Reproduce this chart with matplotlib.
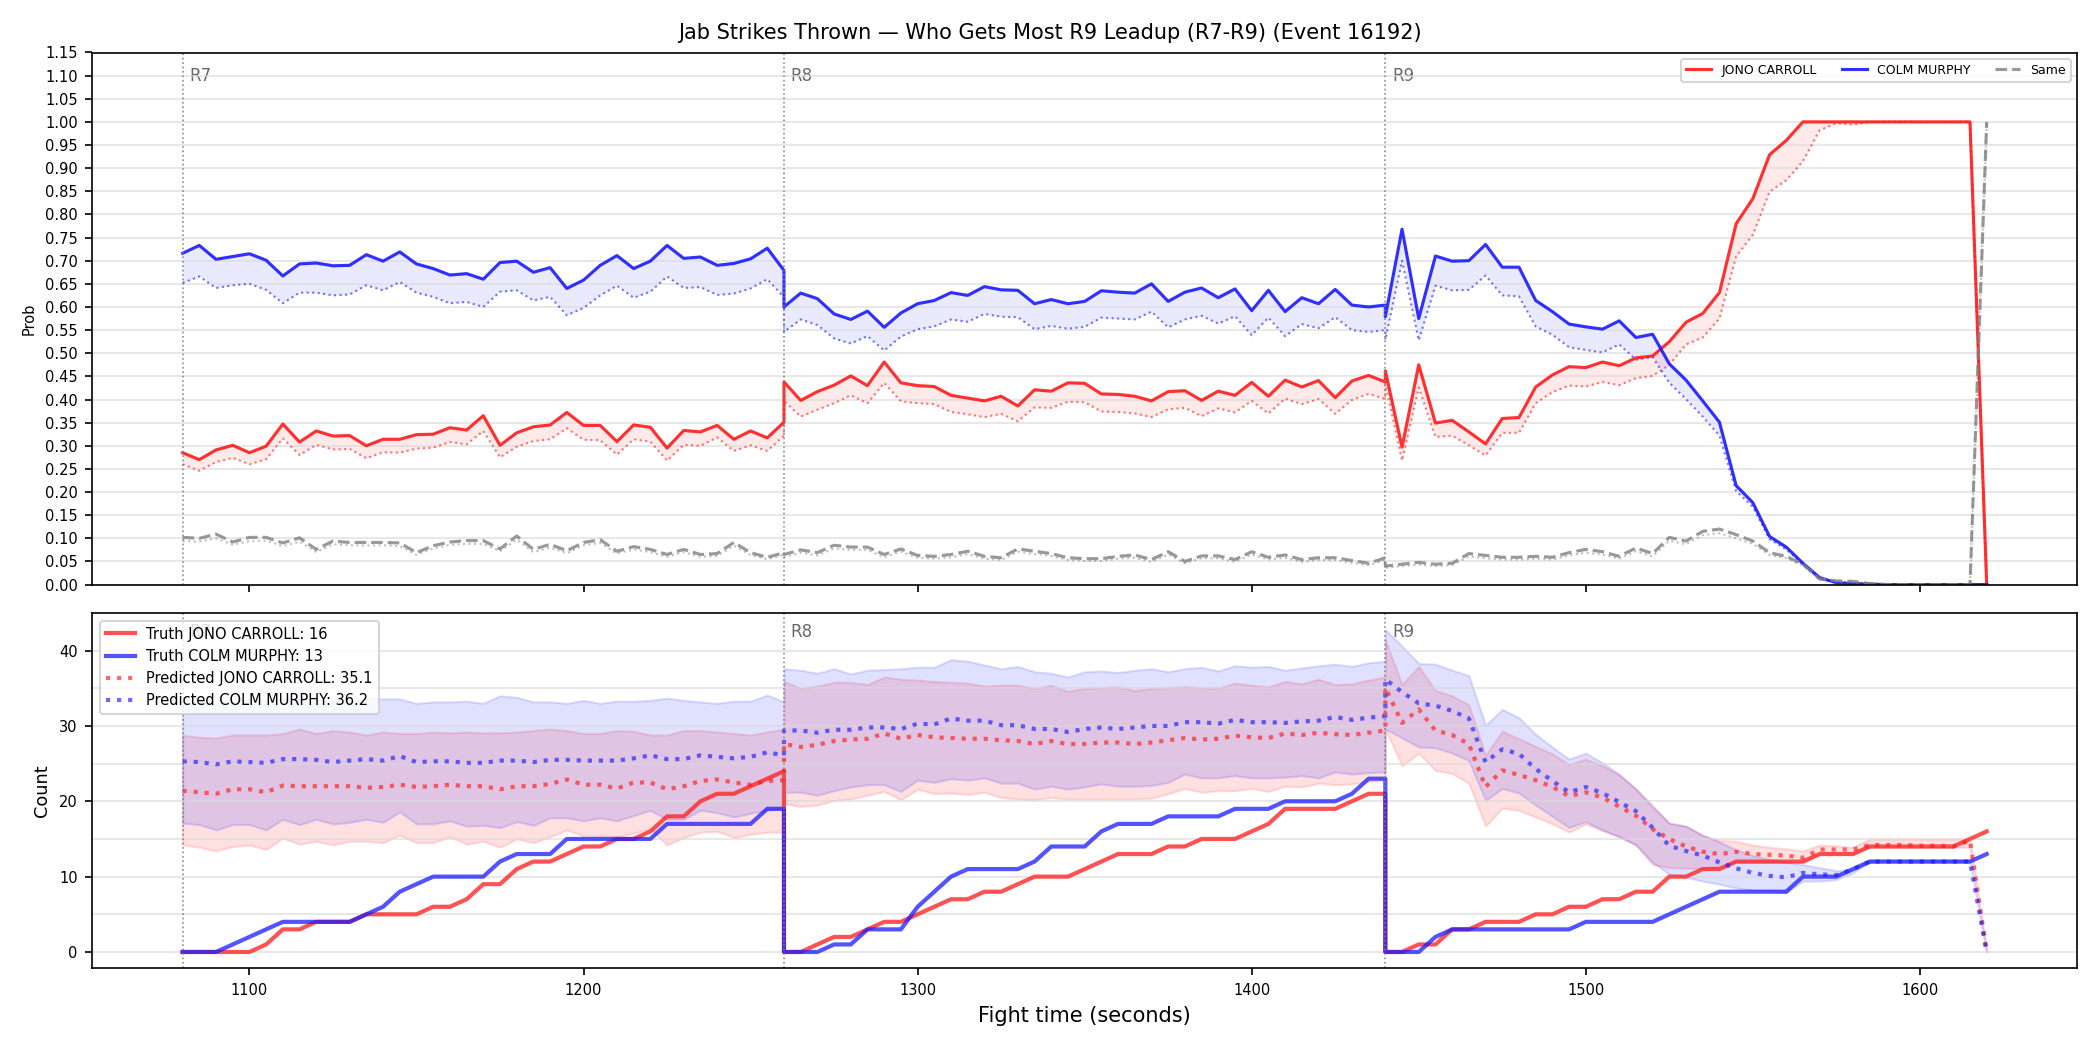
import numpy as np
import matplotlib
matplotlib.use('Agg')
import matplotlib.pyplot as plt
from matplotlib.ticker import MultipleLocator
from matplotlib.transforms import blended_transform_factory

fighter_a = 'JONO CARROLL'
fighter_b = 'COLM MURPHY'
rounds = ['R7', 'R8', 'R9']
round_starts = [1080, 1260, 1440]

# --- probability panel (one list per round, 5 s steps, 37 points each) ---
prob_a = [
    [0.285, 0.270, 0.291, 0.301, 0.285, 0.299, 0.347, 0.308, 0.332, 0.321, 0.322, 0.300, 0.314, 0.314, 0.324, 0.325,
     0.339, 0.334, 0.365, 0.301, 0.328, 0.341, 0.345, 0.372, 0.344, 0.344, 0.309, 0.345, 0.340, 0.295, 0.333, 0.330,
     0.344, 0.314, 0.332, 0.317, 0.351],
    [0.438, 0.398, 0.417, 0.431, 0.451, 0.430, 0.481, 0.436, 0.430, 0.428, 0.409, 0.403, 0.397, 0.407, 0.386, 0.421,
     0.418, 0.436, 0.435, 0.412, 0.411, 0.407, 0.397, 0.417, 0.419, 0.398, 0.418, 0.409, 0.437, 0.407, 0.442, 0.427,
     0.441, 0.404, 0.440, 0.452, 0.438],
    [0.462, 0.297, 0.475, 0.349, 0.355, 0.330, 0.304, 0.359, 0.361, 0.427, 0.453, 0.471, 0.469, 0.481, 0.473, 0.490,
     0.494, 0.525, 0.567, 0.586, 0.631, 0.780, 0.834, 0.929, 0.960, 1.0, 1.0, 1.0, 1.0, 1.0, 1.0, 1.0,
     1.0, 1.0, 1.0, 1.0, 0.0],
]
prob_a_raw = [
    [0.260, 0.246, 0.265, 0.274, 0.260, 0.271, 0.316, 0.280, 0.302, 0.292, 0.293, 0.273, 0.286, 0.285, 0.294, 0.296,
     0.308, 0.303, 0.332, 0.275, 0.298, 0.310, 0.314, 0.338, 0.313, 0.312, 0.281, 0.314, 0.309, 0.268, 0.302, 0.300,
     0.318, 0.289, 0.301, 0.289, 0.322],
    [0.397, 0.363, 0.378, 0.392, 0.409, 0.392, 0.436, 0.396, 0.392, 0.390, 0.373, 0.368, 0.362, 0.369, 0.353, 0.383,
     0.382, 0.395, 0.394, 0.374, 0.373, 0.370, 0.362, 0.379, 0.382, 0.364, 0.381, 0.372, 0.397, 0.370, 0.402, 0.390,
     0.401, 0.369, 0.399, 0.412, 0.401],
    [0.434, 0.268, 0.426, 0.319, 0.322, 0.301, 0.279, 0.328, 0.328, 0.392, 0.416, 0.430, 0.428, 0.438, 0.431, 0.446,
     0.451, 0.475, 0.519, 0.534, 0.575, 0.709, 0.756, 0.849, 0.874, 0.915, 0.982, 0.997, 0.994, 1.0, 1.0, 1.0,
     1.0, 1.0, 1.0, 1.0, 0.0],
]
prob_b = [
    [0.716, 0.733, 0.703, 0.709, 0.715, 0.701, 0.667, 0.693, 0.695, 0.689, 0.690, 0.713, 0.699, 0.719, 0.693, 0.683,
     0.669, 0.672, 0.660, 0.696, 0.699, 0.675, 0.685, 0.640, 0.658, 0.690, 0.711, 0.683, 0.699, 0.733, 0.705, 0.708,
     0.690, 0.694, 0.704, 0.727, 0.679],
    [0.600, 0.630, 0.618, 0.585, 0.573, 0.591, 0.556, 0.587, 0.607, 0.614, 0.631, 0.625, 0.644, 0.637, 0.636, 0.607,
     0.616, 0.607, 0.612, 0.635, 0.632, 0.630, 0.650, 0.612, 0.632, 0.641, 0.620, 0.639, 0.592, 0.636, 0.590, 0.620,
     0.607, 0.638, 0.604, 0.600, 0.604],
    [0.579, 0.768, 0.575, 0.710, 0.699, 0.700, 0.735, 0.686, 0.686, 0.614, 0.590, 0.563, 0.557, 0.552, 0.570, 0.534,
     0.541, 0.477, 0.442, 0.397, 0.351, 0.214, 0.177, 0.104, 0.081, 0.046, 0.015, 0.004, 0.002, 0.001, 0.0, 0.0,
     0.0, 0.0, 0.0, 0.0, 0.0],
]
prob_b_raw = [
    [0.652, 0.666, 0.641, 0.647, 0.650, 0.637, 0.608, 0.631, 0.631, 0.625, 0.627, 0.647, 0.636, 0.654, 0.631, 0.622,
     0.608, 0.611, 0.600, 0.633, 0.636, 0.614, 0.622, 0.582, 0.598, 0.625, 0.646, 0.620, 0.633, 0.666, 0.641, 0.643,
     0.626, 0.629, 0.640, 0.660, 0.621],
    [0.546, 0.573, 0.561, 0.532, 0.521, 0.537, 0.506, 0.536, 0.552, 0.558, 0.573, 0.568, 0.585, 0.579, 0.578, 0.552,
     0.559, 0.553, 0.557, 0.577, 0.575, 0.573, 0.590, 0.556, 0.573, 0.581, 0.564, 0.580, 0.539, 0.577, 0.537, 0.563,
     0.554, 0.578, 0.550, 0.546, 0.550],
    [0.529, 0.700, 0.528, 0.646, 0.636, 0.637, 0.668, 0.625, 0.623, 0.558, 0.540, 0.513, 0.507, 0.502, 0.519, 0.486,
     0.492, 0.436, 0.401, 0.363, 0.322, 0.202, 0.168, 0.098, 0.076, 0.044, 0.013, 0.004, 0.002, 0.001, 0.0, 0.0,
     0.0, 0.0, 0.0, 0.0, 0.0],
]
prob_same = [
    [0.102, 0.100, 0.109, 0.092, 0.102, 0.102, 0.090, 0.101, 0.076, 0.094, 0.091, 0.091, 0.091, 0.090, 0.069, 0.084,
     0.092, 0.095, 0.095, 0.077, 0.105, 0.076, 0.087, 0.073, 0.091, 0.097, 0.072, 0.082, 0.076, 0.065, 0.076, 0.065,
     0.067, 0.091, 0.069, 0.059, 0.069],
    [0.065, 0.075, 0.069, 0.085, 0.081, 0.081, 0.065, 0.077, 0.063, 0.061, 0.065, 0.072, 0.061, 0.058, 0.077, 0.072,
     0.067, 0.058, 0.056, 0.056, 0.061, 0.064, 0.054, 0.071, 0.050, 0.062, 0.062, 0.054, 0.071, 0.059, 0.064, 0.054,
     0.058, 0.058, 0.052, 0.046, 0.058],
    [0.040, 0.044, 0.048, 0.044, 0.046, 0.067, 0.063, 0.059, 0.059, 0.061, 0.059, 0.069, 0.076, 0.071, 0.061, 0.079,
     0.067, 0.102, 0.094, 0.115, 0.120, 0.108, 0.094, 0.069, 0.061, 0.044, 0.012, 0.008, 0.007, 0.002, 0.0, 0.0,
     0.0, 0.0, 0.0, 0.0, 1.0],
]
prob_same_raw = [
    [0.094, 0.093, 0.100, 0.086, 0.094, 0.095, 0.083, 0.093, 0.070, 0.087, 0.085, 0.084, 0.085, 0.083, 0.064, 0.078,
     0.086, 0.088, 0.088, 0.072, 0.097, 0.070, 0.080, 0.068, 0.085, 0.090, 0.067, 0.076, 0.070, 0.060, 0.070, 0.060,
     0.062, 0.084, 0.064, 0.055, 0.064],
    [0.059, 0.069, 0.063, 0.078, 0.075, 0.075, 0.059, 0.071, 0.058, 0.056, 0.059, 0.066, 0.056, 0.053, 0.071, 0.066,
     0.062, 0.053, 0.051, 0.051, 0.056, 0.058, 0.049, 0.065, 0.046, 0.057, 0.057, 0.049, 0.065, 0.054, 0.058, 0.049,
     0.053, 0.053, 0.047, 0.042, 0.053],
    [0.036, 0.040, 0.043, 0.040, 0.042, 0.061, 0.057, 0.054, 0.054, 0.056, 0.054, 0.063, 0.069, 0.065, 0.056, 0.072,
     0.061, 0.095, 0.087, 0.107, 0.111, 0.100, 0.088, 0.064, 0.057, 0.041, 0.011, 0.007, 0.006, 0.002, 0.0, 0.0,
     0.0, 0.0, 0.0, 0.0, 1.0],
]

# --- count panel ---
truth_a = [
    [0, 0, 0, 0, 0, 1, 3, 3, 4, 4, 4, 5, 5, 5, 5, 6, 6, 7, 9, 9, 11, 12, 12, 13, 14, 14, 15, 15, 16, 18, 18, 20,
     21, 21, 22, 23, 24],
    [0, 0, 1, 2, 2, 3, 4, 4, 5, 6, 7, 7, 8, 8, 9, 10, 10, 10, 11, 12, 13, 13, 13, 14, 14, 15, 15, 15, 16, 17, 19, 19,
     19, 19, 20, 21, 21],
    [0, 0, 1, 1, 3, 3, 4, 4, 4, 5, 5, 6, 6, 7, 7, 8, 8, 10, 10, 11, 11, 12, 12, 12, 12, 12, 13, 13, 13, 14, 14, 14,
     14, 14, 14, 15, 16],
]
truth_b = [
    [0, 0, 0, 1, 2, 3, 4, 4, 4, 4, 4, 5, 6, 8, 9, 10, 10, 10, 10, 12, 13, 13, 13, 15, 15, 15, 15, 15, 15, 17, 17, 17,
     17, 17, 17, 19, 19],
    [0, 0, 0, 1, 1, 3, 3, 3, 6, 8, 10, 11, 11, 11, 11, 12, 14, 14, 14, 16, 17, 17, 17, 18, 18, 18, 18, 19, 19, 19, 20, 20,
     20, 20, 21, 23, 23],
    [0, 0, 0, 2, 3, 3, 3, 3, 3, 3, 3, 3, 4, 4, 4, 4, 4, 5, 6, 7, 8, 8, 8, 8, 8, 10, 10, 10, 11, 12, 12, 12,
     12, 12, 12, 12, 13],
]
pred_a = [
    [21.4, 21.2, 21.0, 21.6, 21.6, 21.2, 22.1, 22.0, 22.0, 22.0, 22.0, 21.8, 21.9, 22.2, 21.9, 22.0, 22.2, 22.0, 22.0,
     21.6, 22.0, 22.0, 22.3, 22.9, 22.2, 22.2, 21.7, 22.5, 22.5, 21.6, 22.0, 22.7, 22.9, 22.5, 22.2, 22.7, 22.8],
    [27.6, 27.2, 27.5, 28.0, 28.2, 28.3, 29.0, 28.3, 28.8, 28.5, 28.4, 28.3, 28.3, 28.1, 28.0, 27.6, 28.0, 27.6, 27.6,
     27.8, 27.8, 27.6, 27.8, 28.1, 28.4, 28.2, 28.3, 28.7, 28.5, 28.4, 29.0, 28.8, 29.1, 28.9, 28.8, 29.1, 29.4],
    [35.1, 30.4, 32.2, 29.4, 28.8, 27.6, 21.9, 24.1, 23.5, 22.8, 21.9, 20.7, 21.2, 20.5, 19.3, 18.1, 16.3, 15.0, 14.0,
     13.3, 13.0, 13.3, 13.0, 12.9, 12.8, 12.5, 13.6, 13.6, 13.6, 14.2, 14.2, 14.2, 14.1, 14.1, 14.0, 14.8, 0.0],
]
pred_a_lo = [
    [14.2, 13.9, 13.4, 14.0, 14.2, 13.6, 15.1, 14.3, 14.7, 14.2, 14.7, 14.7, 14.5, 15.5, 14.5, 14.5, 15.3, 14.3, 14.7,
     13.9, 15.0, 14.5, 15.3, 16.2, 15.4, 15.4, 15.3, 15.8, 16.3, 14.2, 15.2, 15.9, 16.0, 15.2, 15.6, 15.9, 15.9],
    [19.7, 19.3, 19.5, 20.1, 20.3, 20.8, 21.3, 20.2, 21.6, 21.0, 21.1, 20.9, 21.2, 20.5, 20.3, 20.2, 20.5, 20.3, 20.3,
     20.3, 20.3, 20.3, 20.4, 21.0, 21.7, 21.2, 21.4, 21.4, 21.7, 21.3, 22.0, 21.9, 22.4, 22.2, 22.3, 22.6, 22.8],
    [29.6, 24.7, 26.4, 24.1, 23.7, 22.4, 16.7, 19.1, 18.8, 17.9, 17.0, 15.9, 17.0, 16.1, 15.3, 14.2, 11.6, 11.2, 11.1,
     11.1, 11.4, 11.9, 11.9, 11.9, 11.9, 11.9, 13.0, 13.0, 13.0, 13.9, 13.9, 13.9, 13.9, 13.9, 13.9, 13.9, 0.0],
]
pred_a_hi = [
    [28.8, 28.5, 28.4, 28.8, 28.8, 28.8, 29.0, 29.6, 29.0, 29.4, 29.2, 28.8, 29.2, 29.0, 29.0, 29.2, 29.1, 29.2, 29.1,
     29.1, 29.2, 29.4, 29.6, 29.4, 29.0, 29.0, 29.4, 29.3, 28.8, 28.8, 29.4, 29.4, 29.2, 29.0, 28.8, 29.2, 29.6],
    [35.9, 35.0, 35.3, 35.8, 35.8, 35.5, 36.5, 36.2, 36.1, 35.9, 35.8, 35.7, 35.3, 35.4, 35.4, 35.0, 35.4, 34.6, 35.0,
     35.1, 35.2, 34.7, 35.0, 35.1, 35.2, 35.1, 35.0, 35.7, 35.4, 35.2, 35.9, 35.6, 36.2, 35.5, 35.6, 36.1, 36.5],
    [41.4, 35.5, 37.9, 34.7, 34.0, 32.8, 26.1, 29.3, 28.3, 27.3, 26.3, 24.9, 25.6, 24.7, 23.5, 21.7, 19.5, 17.1, 16.7,
     15.5, 14.8, 14.7, 14.2, 13.9, 13.7, 13.4, 14.2, 14.1, 13.9, 15.0, 15.0, 15.0, 15.0, 15.0, 15.0, 15.0, 0.0],
]
pred_b = [
    [25.3, 25.2, 24.9, 25.3, 25.2, 25.1, 25.6, 25.6, 25.5, 25.2, 25.4, 25.6, 25.4, 26.0, 25.2, 25.3, 25.3, 25.1, 25.1,
     25.4, 25.4, 25.2, 25.5, 25.5, 25.4, 25.4, 25.4, 25.7, 26.1, 25.6, 25.6, 26.1, 25.9, 25.7, 25.9, 26.5, 26.1],
    [29.4, 29.4, 29.1, 29.5, 29.5, 29.8, 29.8, 29.6, 30.3, 30.2, 31.0, 30.7, 30.7, 30.1, 30.1, 29.6, 29.6, 29.2, 29.6,
     29.8, 29.6, 29.8, 30.0, 30.0, 30.5, 30.5, 30.3, 30.8, 30.5, 30.5, 30.4, 30.6, 30.7, 31.2, 30.8, 31.1, 31.3],
    [36.2, 34.5, 33.0, 32.7, 32.0, 31.0, 25.2, 26.9, 26.3, 24.3, 22.7, 21.2, 21.9, 21.1, 19.9, 18.7, 16.5, 14.1, 13.4,
     12.8, 11.9, 11.1, 10.5, 10.1, 9.9, 10.5, 10.3, 10.2, 11.0, 12.0, 12.0, 12.0, 12.0, 12.0, 12.0, 12.0, 0.0],
]
pred_b_lo = [
    [17.1, 16.9, 16.2, 16.9, 16.9, 16.2, 17.6, 16.9, 17.6, 17.0, 17.2, 17.6, 17.2, 18.6, 17.0, 17.0, 17.4, 16.7, 16.8,
     16.5, 17.3, 16.8, 17.8, 17.8, 17.4, 17.8, 17.4, 18.1, 18.8, 17.6, 17.6, 18.8, 18.5, 17.9, 18.4, 18.8, 19.1],
    [21.2, 21.2, 20.8, 21.4, 21.9, 22.2, 22.2, 21.3, 22.8, 22.5, 23.0, 22.8, 23.1, 22.4, 22.4, 21.6, 22.0, 21.6, 21.9,
     22.3, 22.0, 22.0, 22.1, 22.5, 23.6, 23.1, 23.1, 23.4, 23.1, 23.1, 23.2, 23.4, 23.1, 23.9, 23.6, 23.8, 23.9],
    [29.6, 28.4, 27.2, 27.1, 26.4, 25.4, 20.1, 21.7, 21.1, 19.5, 18.0, 16.5, 17.3, 16.2, 15.3, 14.2, 11.9, 10.3, 9.9,
     9.4, 9.0, 8.5, 8.2, 8.1, 7.9, 9.4, 9.4, 9.6, 10.5, 11.9, 11.9, 11.9, 11.9, 11.9, 11.9, 11.9, 0.0],
]
pred_b_hi = [
    [33.4, 33.2, 33.0, 33.3, 33.5, 33.4, 33.6, 33.8, 33.5, 33.4, 33.2, 33.7, 33.6, 33.6, 33.0, 33.2, 33.2, 33.3, 33.0,
     34.0, 33.8, 33.2, 33.2, 33.0, 33.4, 33.0, 33.3, 33.3, 33.4, 33.7, 33.4, 33.2, 33.0, 33.3, 33.3, 34.1, 33.2],
    [37.6, 37.4, 37.0, 37.6, 36.9, 37.4, 37.5, 37.6, 37.8, 37.8, 38.8, 38.6, 38.1, 37.6, 37.9, 37.2, 37.0, 36.5, 37.2,
     37.3, 37.1, 37.4, 37.6, 37.2, 37.6, 37.8, 37.3, 38.0, 37.8, 37.9, 37.4, 37.7, 38.0, 38.2, 37.9, 38.4, 38.6],
    [42.8, 40.6, 38.3, 38.2, 37.4, 36.7, 30.1, 32.2, 31.1, 28.9, 27.2, 25.6, 26.4, 25.1, 23.6, 21.6, 19.2, 17.1, 16.7,
     15.5, 14.6, 13.6, 12.8, 12.3, 11.9, 11.6, 11.2, 10.8, 10.9, 12.2, 12.2, 12.2, 12.2, 12.2, 12.2, 12.2, 0.0],
]


def join(per_round):
    return np.concatenate([np.asarray(v, dtype=float) for v in per_round])


t = np.concatenate([np.arange(s, s + 181, 5) for s in round_starts])

RED = '#ff1a1a'
BLUE = '#1a1aff'

fig, (ax1, ax2) = plt.subplots(2, 1, figsize=(14, 7), dpi=150, sharex=True,
                               gridspec_kw={'height_ratios': [3, 2]})
fig.subplots_adjust(left=0.044, right=0.989, top=0.950, bottom=0.078, hspace=0.065)

# top: probabilities
for solid, raw, col in [(prob_a, prob_a_raw, RED), (prob_b, prob_b_raw, BLUE)]:
    ax1.fill_between(t, join(raw), join(solid), color=col, alpha=0.09, linewidth=0)
    ax1.plot(t, join(raw), color=col, ls=':', lw=1.0, alpha=0.6)
ax1.plot(t, join(prob_same_raw), color='gray', ls=':', lw=1.0, alpha=0.5)

ax1.plot(t, join(prob_a), color=RED, lw=1.5, alpha=0.9, label=fighter_a)
ax1.plot(t, join(prob_b), color=BLUE, lw=1.5, alpha=0.9, label=fighter_b)
ax1.plot(t, join(prob_same), color='gray', ls='--', lw=1.5, alpha=0.8, label='Same')

ax1.set_ylim(0, 1.15)
ax1.yaxis.set_major_locator(MultipleLocator(0.05))
ax1.grid(axis='y', color='#d9d9d9', lw=0.8, alpha=0.7)
ax1.set_ylabel('Prob', fontsize=7)
ax1.tick_params(labelsize=7)
ax1.legend(loc='upper right', ncol=3, fontsize=6)

# bottom: counts
ax2.fill_between(t, join(pred_a_lo), join(pred_a_hi), color='red', alpha=0.12)
ax2.fill_between(t, join(pred_b_lo), join(pred_b_hi), color='blue', alpha=0.12)
ax2.plot(t, join(truth_a), color=RED, lw=2, alpha=0.75,
         label=f'Truth {fighter_a}: {truth_a[-1][-1]}')
ax2.plot(t, join(truth_b), color=BLUE, lw=2, alpha=0.75,
         label=f'Truth {fighter_b}: {truth_b[-1][-1]}')
ax2.plot(t, join(pred_a), color=RED, ls=':', lw=2, alpha=0.65,
         label=f'Predicted {fighter_a}: {pred_a[-1][0]:.1f}')
ax2.plot(t, join(pred_b), color=BLUE, ls=':', lw=2, alpha=0.65,
         label=f'Predicted {fighter_b}: {pred_b[-1][0]:.1f}')

ax2.yaxis.set_major_locator(MultipleLocator(10))
ax2.yaxis.set_minor_locator(MultipleLocator(5))
ax2.tick_params(axis='y', which='minor', length=0)
ax2.grid(axis='y', which='both', color='#d9d9d9', lw=0.8, alpha=0.7)
ax2.set_ylabel('Count', fontsize=8.5)
ax2.set_xlabel('Fight time (seconds)', fontsize=10)
ax2.tick_params(labelsize=7)

# round markers (drawn before the legend so the legend box covers the R7 tag, as in the source)
for ax in (ax1, ax2):
    tr = blended_transform_factory(ax.transData, ax.transAxes)
    for name, start in zip(rounds, round_starts):
        ax.axvline(start, color='gray', ls=':', lw=0.8, alpha=0.9)
        ax.text(start + 2, 0.972, name, transform=tr, va='top', ha='left', fontsize=8,
                color='dimgray', zorder=1)

leg = ax2.legend(loc='upper left', fontsize=7)
leg.set_zorder(5)

fig.suptitle('Jab Strikes Thrown \u2014 Who Gets Most R9 Leadup (R7-R9) (Event 16192)', fontsize=10, y=0.978)

fig.savefig('out.png', dpi=150)
